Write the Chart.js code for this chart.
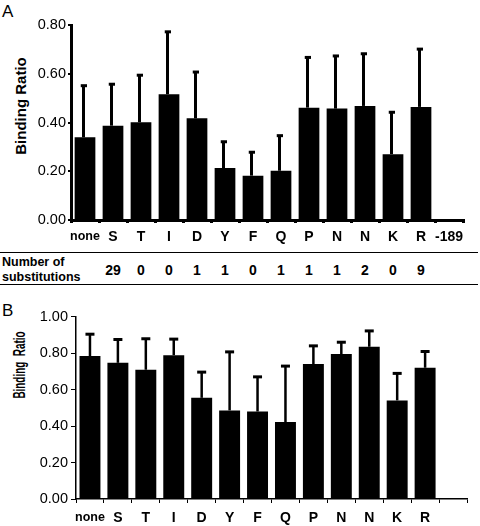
<!DOCTYPE html>
<html lang="en">
  <head>
    <meta charset="UTF-8" />
    <title>Binding Ratio</title>
    <script src="https://cdn.jsdelivr.net/npm/chart.js@4.4.1/dist/chart.umd.min.js"></script>
    <style>
      body {
        margin: 0;
        width: 480px;
        height: 526px;
        position: relative;
        overflow: hidden;
        background: #fff;
        font-family: "Liberation Sans", Arial, sans-serif;
        color: #000;
      }
      .box { position: absolute; left: 0; width: 480px; }
      .letter { position: absolute; font-size: 17px; line-height: 1; }
      .ytitle {
        position: absolute;
        font-size: 15px;
        font-weight: bold;
        white-space: pre;
        line-height: 1;
      }
      .rule { position: absolute; left: 0; width: 478px; height: 0; border-top: 1.5px solid #000; }
      .subs { position: absolute; font-weight: bold; font-size: 14px; line-height: 1; transform: translate(-50%, -50%); }
      .rowlabel { position: absolute; left: 2px; top: 255px; font-weight: bold; font-size: 12.5px; line-height: 15px; }
    </style>
  </head>
  <body>
    <div class="letter" style="left:2px; top:3px">A</div>
    <div class="letter" style="left:2px; top:302px">B</div>

    <div class="ytitle" style="left:20px; top:106px; transform:translate(-50%,-50%) rotate(-90deg)">Binding Ratio</div>
    <div class="ytitle" style="left:20px; top:365px; font-size:16px; transform:translate(-50%,-50%) rotate(-90deg) scaleX(0.62)">Binding  Ratio</div>

    <div class="box" style="top:0; height:250px"><canvas id="chartA"></canvas></div>
    <div class="box" style="top:300px; height:226px"><canvas id="chartB"></canvas></div>

    <div class="rule" style="top:252px"></div>
    <div class="rule" style="top:284px"></div>
    <div class="rowlabel">Number of<br />substitutions</div>
    <div id="subsRow"></div>
  </body>
  <script>
    // panel A
    const labelsA = ["none", "S", "T", "I", "D", "Y", "F", "Q", "P", "N", "N", "K", "R", "-189"];
    const ratioA = [0.339, 0.387, 0.401, 0.516, 0.417, 0.213, 0.182, 0.202, 0.461, 0.457, 0.468, 0.270, 0.464, null];
    const sdA = [0.212, 0.170, 0.193, 0.256, 0.190, 0.108, 0.096, 0.144, 0.206, 0.216, 0.214, 0.172, 0.237, null];
    const substitutions = [null, 29, 0, 0, 1, 1, 0, 1, 1, 1, 2, 0, 9, null];

    // panel B
    const labelsB = ["none", "S", "T", "I", "D", "Y", "F", "Q", "P", "N", "N", "K", "R", ""];
    const ratioB = [0.784, 0.747, 0.709, 0.789, 0.555, 0.486, 0.480, 0.422, 0.740, 0.795, 0.835, 0.541, 0.720, null];
    const sdB = [0.120, 0.128, 0.170, 0.088, 0.141, 0.321, 0.190, 0.307, 0.100, 0.065, 0.087, 0.148, 0.089, null];

    Chart.defaults.font.family = "'Liberation Sans', Arial, sans-serif";
    Chart.defaults.color = "#000";

    // upper error bars with a cap
    const errorBars = {
      id: "errorBars",
      afterDatasetsDraw(chart, args, opts) {
        const ctx = chart.ctx;
        const yScale = chart.scales.y;
        const ds = chart.data.datasets[0];
        ctx.save();
        ctx.strokeStyle = "#000";
        chart.getDatasetMeta(0).data.forEach((bar, i) => {
          const v = ds.data[i];
          const sd = opts.sd[i];
          if (v == null || sd == null) return;
          const yTop = yScale.getPixelForValue(v + sd);
          const x = bar.x + opts.shift;
          ctx.lineWidth = opts.width;
          ctx.beginPath();
          ctx.moveTo(x, bar.y);
          ctx.lineTo(x, yTop);
          ctx.stroke();
          ctx.lineWidth = opts.capWidth;
          ctx.beginPath();
          ctx.moveTo(x - opts.cap / 2 + opts.shift * -0.5, yTop);
          ctx.lineTo(x + opts.cap / 2, yTop);
          ctx.stroke();
        });
        ctx.restore();
      },
    };

    function makeChart(id, labels, values, sd, cfg) {
      return new Chart(document.getElementById(id), {
        type: "bar",
        data: {
          labels: labels,
          datasets: [
            {
              data: values,
              backgroundColor: "#000",
              borderWidth: 0,
              categoryPercentage: 1,
              barPercentage: cfg.barPct,
            },
          ],
        },
        plugins: [errorBars],
        options: {
          responsive: true,
          maintainAspectRatio: false,
          animation: false,
          layout: {padding: {top: cfg.padTop, right: cfg.padRight, left: 0, bottom: 0}},
          plugins: {
            legend: {display: false},
            tooltip: {enabled: false},
            errorBars: {sd: sd, width: cfg.errWidth, capWidth: 3, cap: cfg.cap, shift: cfg.errShift},
          },
          scales: {
            x: {
              offset: true,
              border: {display: true, color: "#000", width: cfg.axisWidth},
              grid: {display: true, offset: true, drawOnChartArea: false, color: "#000", tickLength: cfg.xTick, lineWidth: cfg.xTickWidth},
              ticks: {
                padding: cfg.xPad,
                maxRotation: 0,
                autoSkip: false,
                color: "#000",
                font: (c) => ({size: c.tick && c.tick.label === "none" ? 12.5 : 14, weight: "bold"}),
              },
              afterFit: (s) => { s.height = cfg.xHeight; },
            },
            y: {
              min: 0,
              max: cfg.yMax,
              border: {display: true, color: "#000", width: cfg.yAxisWidth},
              grid: {display: true, drawOnChartArea: false, color: "#000", tickLength: cfg.yTick, lineWidth: cfg.yTickWidth},
              ticks: {
                stepSize: 0.2,
                padding: cfg.yPad,
                color: "#000",
                font: {size: 14.5},
                callback: (v) => v.toFixed(2),
              },
              afterFit: (s) => { s.width = cfg.yWidth; },
            },
          },
        },
      });
    }

    const chartA = makeChart("chartA", labelsA, ratioA, sdA, {
      barPct: 0.74, padTop: 25, padRight: 17, yWidth: 71, xHeight: 30, yMax: 0.8,
      axisWidth: 3, yAxisWidth: 3, xTick: 3, xTickWidth: 3, yTick: 3, yTickWidth: 2,
      xPad: 6, yPad: 2, errWidth: 3, cap: 7, errShift: -1.5,
    });

    makeChart("chartB", labelsB, ratioB, sdB, {
      barPct: 0.75, padTop: 16.7, padRight: 13, yWidth: 76, xHeight: 27, yMax: 1.0,
      axisWidth: 1.5, yAxisWidth: 1.5, xTick: 4, xTickWidth: 1, yTick: 5, yTickWidth: 1,
      xPad: 7, yPad: 3, errWidth: 2.5, cap: 9, errShift: 0,
    });

    // substitution counts under panel A, lined up with its categories
    const row = document.getElementById("subsRow");
    substitutions.forEach((n, i) => {
      if (n == null) return;
      const d = document.createElement("div");
      d.className = "subs";
      d.textContent = n;
      d.style.left = chartA.scales.x.getPixelForValue(i) + "px";
      d.style.top = "270px";
      row.appendChild(d);
    });
  </script>
</html>
